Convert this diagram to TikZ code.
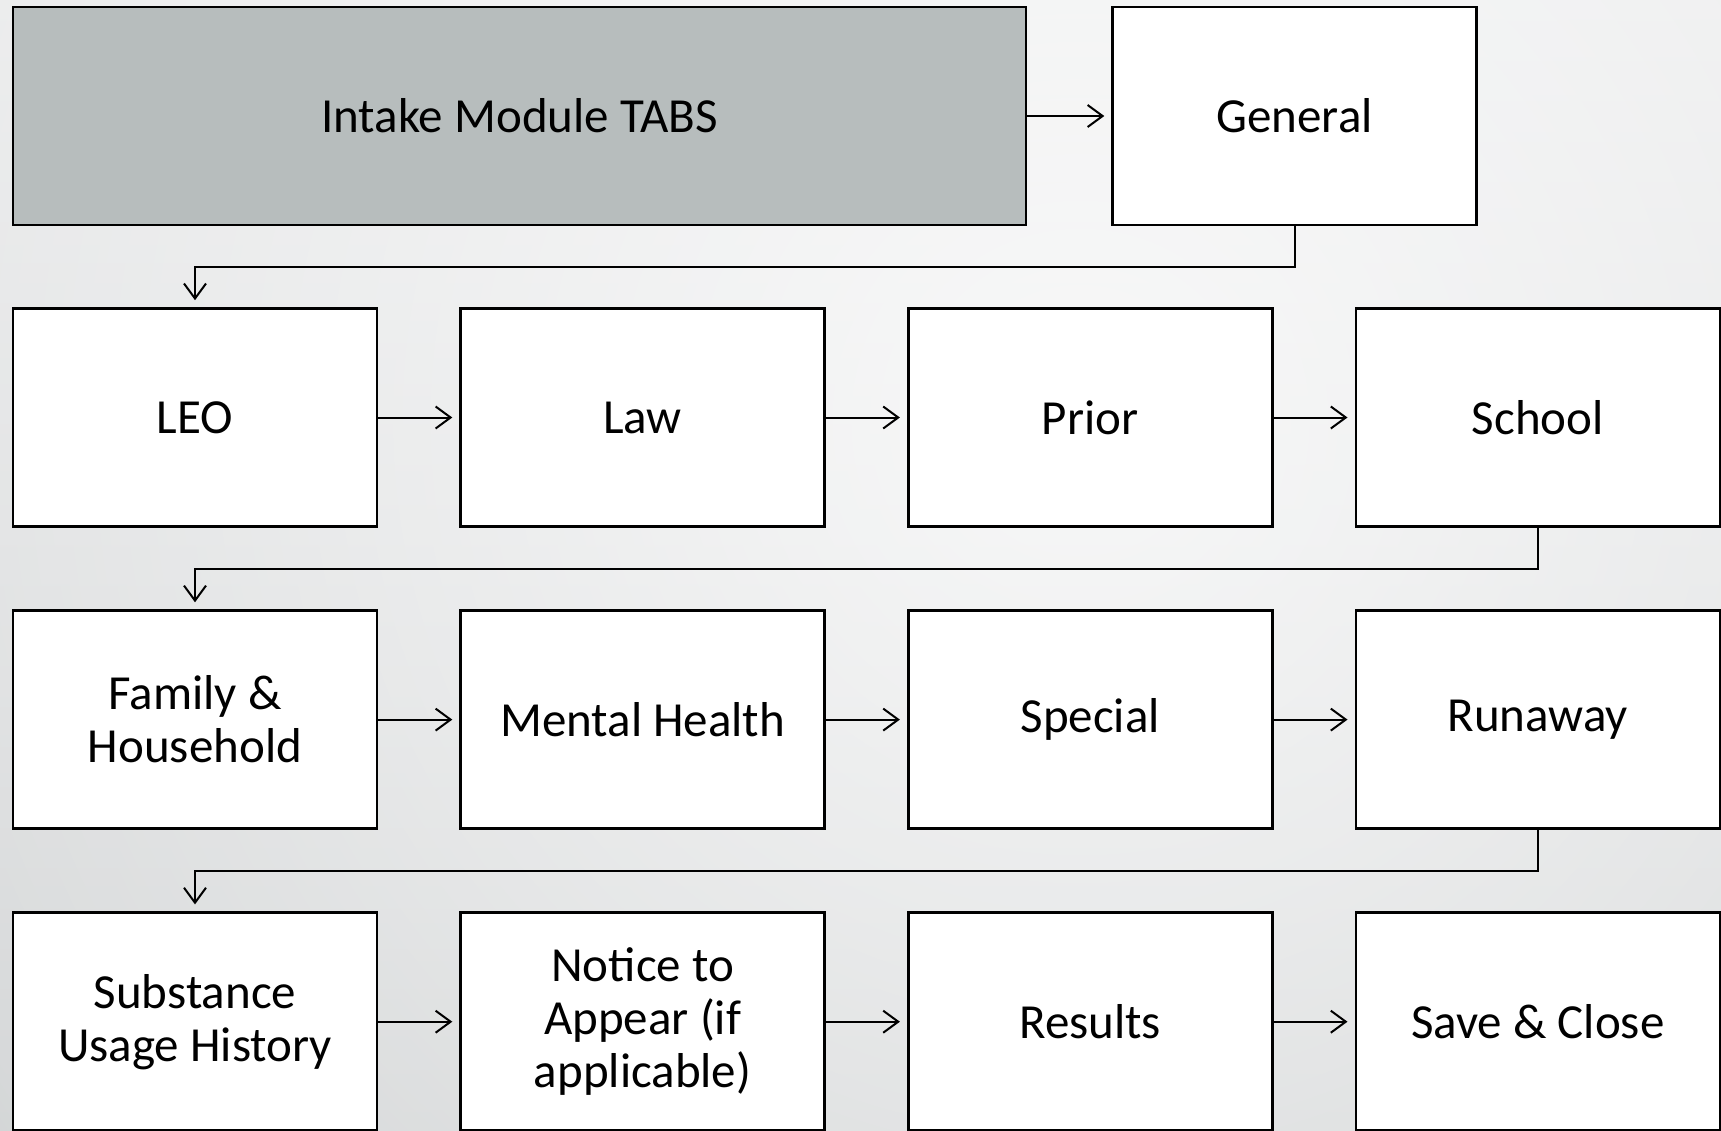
\documentclass[tikz,border=0pt]{standalone}
\usepackage{fontspec}
\setmainfont{Carlito}
\usetikzlibrary{arrows.meta, positioning, fadings}
\definecolor{headgray}{HTML}{B7BDBD}
\definecolor{bgtop}{HTML}{E4E5E6}
\definecolor{bgbottom}{HTML}{C6C9CA}
\tikzfading[name=glow, inner color=transparent!20, outer color=transparent!100]

\begin{document}
\begin{tikzpicture}[
                                x=1pt, y=-1pt,
                                >={Straight Barb[length=15pt,width=22pt]},
                                node distance=81.5pt and 81pt,
                                font=\fontsize{49}{53}\selectfont
                            ]
                            \tikzset{
                                tab/.style = {draw, line width=2.6pt, fill=white, minimum width=364pt, minimum height=218pt, inner sep=0pt, align=center},
                                headtab/.style = {tab, fill=headgray, minimum width=1013pt},
                                flow/.style = {->, line width=2pt, shorten >=7pt}
                            }

                            % Slide background
                            \useasboundingbox (0,0) rectangle (1721,1130);
                            \begin{scope}
                                \clip (0,0) rectangle (1721,1130);
                                \shade[top color=bgtop, bottom color=bgbottom] (0,0) rectangle (1721,1130);
                                \fill[white, path fading=glow] (1080,420) circle (1900);
                            \end{scope}

                            % Header row
                            \node[headtab] (tabs) at (519.5,116) {Intake Module TABS};
                            \node[tab, right=84pt of tabs] (gen) {General};
                            \draw[flow] (tabs) -- (gen);

                            % Second row
                            \node[tab] (leo) at (195,417.5) {LEO};
                            \node[tab, right=of leo] (law) {Law};
                            \node[tab, right=of law] (prior) {Prior};
                            \node[tab, right=of prior] (school) {School};

                            % Third row
                            \node[tab, below=of leo] (family) {Family \&\\Household};
                            \node[tab, right=of family] (mental) {Mental Health};
                            \node[tab, right=of mental] (special) {Special};
                            \node[tab, right=of special] (runaway) {Runaway};

                            % Fourth row
                            \node[tab, below=of family] (substance) {Substance\\Usage History};
                            \node[tab, right=of substance] (notice) {Notice to\\Appear (if\\applicable)};
                            \node[tab, right=of notice] (results) {Results};
                            \node[tab, right=of results] (save) {Save \& Close};

                            % Arrows along the rows
                            \draw[flow] (leo) -- (law);
                            \draw[flow] (law) -- (prior);
                            \draw[flow] (prior) -- (school);
                            \draw[flow] (family) -- (mental);
                            \draw[flow] (mental) -- (special);
                            \draw[flow] (special) -- (runaway);
                            \draw[flow] (substance) -- (notice);
                            \draw[flow] (notice) -- (results);
                            \draw[flow] (results) -- (save);

                            % Wrap-around arrows
                            \draw[flow] (gen.south) -- ++(0,41) -| (leo.north);
                            \draw[flow] (school.south) -- ++(0,41) -| (family.north);
                            \draw[flow] (runaway.south) -- ++(0,41) -| (substance.north);

                        \end{tikzpicture}
\end{document}
